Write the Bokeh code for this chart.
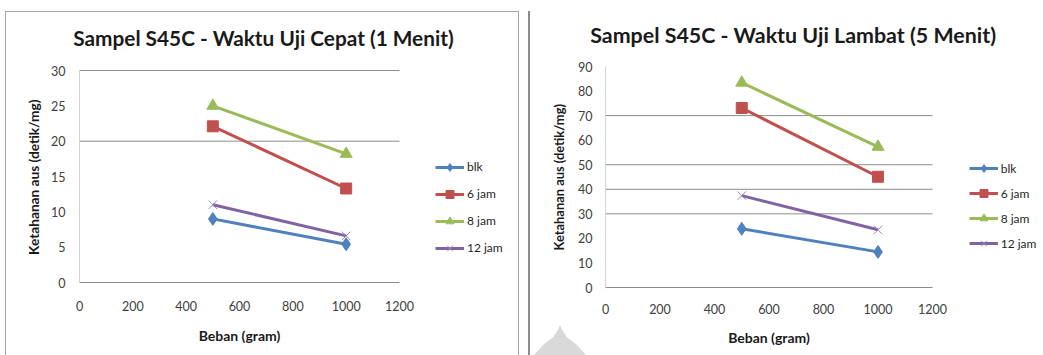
import math

from bokeh.plotting import figure
from bokeh.layouts import row
from bokeh.models import (Range1d, FixedTicker, Legend, LegendItem, Label,
                          InlineStyleSheet)
from bokeh.embed import file_html
from bokeh.resources import INLINE

# Load (gram) on the x axis
beban = [500, 1000]
series_names = ["blk", "6 jam", "8 jam", "12 jam"]

# Wear resistance (detik/mg), fast test (1 minute)
cepat_blk = [9.0, 5.4]
cepat_6jam = [22.1, 13.3]
cepat_8jam = [25.0, 18.2]
cepat_12jam = [11.0, 6.6]

# Wear resistance (detik/mg), slow test (5 minutes)
lambat_blk = [23.9, 14.5]
lambat_6jam = [73.1, 45.1]
lambat_8jam = [83.4, 57.3]
lambat_12jam = [37.4, 23.5]

x_ticks = [0, 200, 400, 600, 800, 1000, 1200]
cepat_ticks = [0, 5, 10, 15, 20, 25, 30]
lambat_ticks = [0, 10, 20, 30, 40, 50, 60, 70, 80, 90]
cepat_grid = [20, 30]
lambat_grid = [30, 40, 50, 70]

title_cepat = "Sampel S45C - Waktu Uji Cepat (1 Menit)"
title_lambat = "Sampel S45C - Waktu Uji Lambat (5 Menit)"
y_label = "Ketahanan aus (detik/mg)"
x_label = "Beban (gram)"

COLORS = ["#4F81BD", "#C0504D", "#9BBB59", "#8064A2"]
MARKERS = ["diamond", "square", "triangle", "x"]
MSIZE = [13, 11, 12, 12]
FONT = "Lato"
H = 355


def make_chart(width, axes_box, title, title_size, title_pos, ys, y_ticks, grid_ticks,
               legend_xy, legend_spacing, ylab_size, ylab_pos, ytick_standoff,
               xtick_standoff, xlab_pos, css):
    # The frame fills the whole canvas; axes_box gives the pixel edges
    # (left, top, right, bottom) of the 0..max data area, and both axes are
    # pinned at data zero and bounded to that area.
    al, at, ar, ab = axes_box
    x_max, y_max = x_ticks[-1], y_ticks[-1]
    kx = x_max / (ar - al)
    ky = y_max / (ab - at)
    p = figure(width=width, height=H, output_backend="svg", toolbar_location=None,
               x_range=Range1d(-al * kx, (width - al) * kx),
               y_range=Range1d(-(H - ab) * ky, ab * ky),
               min_border_left=0, min_border_right=0,
               min_border_top=0, min_border_bottom=0,
               stylesheets=[InlineStyleSheet(css=css)])
    p.outline_line_color = None
    p.background_fill_color = None
    p.border_fill_color = None
    p.grid.visible = False

    # horizontal gridlines across the data area only
    p.segment(x0=[0] * len(grid_ticks), x1=[x_max] * len(grid_ticks),
              y0=grid_ticks, y1=grid_ticks, line_color="#8c8c8c", line_width=1)

    p.xaxis.ticker = FixedTicker(ticks=x_ticks)
    p.yaxis.ticker = FixedTicker(ticks=y_ticks)
    p.xaxis.bounds = (0, x_max)
    p.yaxis.bounds = (0, y_max)
    p.xaxis.fixed_location = 0
    p.yaxis.fixed_location = 0
    for ax in (p.xaxis[0], p.yaxis[0]):
        ax.major_tick_line_color = None
        ax.minor_tick_line_color = None
        ax.major_label_text_font = FONT
        ax.major_label_text_font_size = "12.5px"
        ax.major_label_text_color = "#404040"
    p.xaxis.axis_line_color = "#8c8c8c"
    p.yaxis.axis_line_color = "#d4d4d4"
    p.xaxis.major_label_standoff = xtick_standoff
    p.yaxis.major_label_standoff = ytick_standoff

    items = []
    for name, vals, color, marker, ms in zip(series_names, ys, COLORS, MARKERS, MSIZE):
        ln = p.line(beban, vals, line_color=color, line_width=3)
        if marker == "x":
            sc = p.scatter(beban, vals, marker=marker, size=ms, line_color="#9C88C0",
                           line_width=1)
        else:
            sc = p.scatter(beban, vals, marker=marker, size=ms, fill_color=color,
                           line_color=color)
        items.append(LegendItem(label=name, renderers=[ln, sc]))

    legend = Legend(items=items, location=(legend_xy[0], H - legend_xy[1]),
                    glyph_width=29, glyph_height=20, label_height=20,
                    spacing=legend_spacing, padding=0, margin=0, label_standoff=3,
                    border_line_color=None, background_fill_alpha=0,
                    label_text_font=FONT, label_text_font_size="12px",
                    label_text_color="#262626")
    p.add_layout(legend)

    def label(text, pos, size, angle=0.0):
        p.add_layout(Label(x=pos[0], y=H - pos[1], x_units="screen", y_units="screen",
                           text=text, angle=angle, text_align="center",
                           text_baseline="middle", text_font=FONT,
                           text_font_style="bold", text_font_size=size,
                           text_color="#1a1a1a"))

    label(title, title_pos, title_size)
    label(y_label, ylab_pos, ylab_size, angle=math.pi / 2)
    label(x_label, xlab_pos, "14px")
    return p


# outer border of the first chart
left_css = """
:host { position: relative; }
:host::after { content: ""; position: absolute; left: 5px; top: 11px; width: 514px;
  height: 360px; border: 1px solid #a6a6a6; pointer-events: none; }
"""
# separator line and faint logo watermark of the second chart
right_css = """
:host { position: relative; }
:host::after { content: ""; position: absolute; left: 7px; top: 11px; width: 2px;
  height: 350px; background: #8c8c8c; pointer-events: none; }
:host::before { content: ""; position: absolute; left: 12px; top: 325px; width: 54px;
  height: 31px; background: #d9d9d9; pointer-events: none; z-index: 1;
  clip-path: polygon(0% 100%, 20% 62%, 38% 38%, 46% 16%, 50% 0%, 54% 16%, 62% 38%, 80% 62%, 100% 100%); }
"""

left = make_chart(521, (79, 70, 399, 282), title_cepat, "20.8px", (263, 36.5),
                  [cepat_blk, cepat_6jam, cepat_8jam, cepat_12jam], cepat_ticks,
                  cepat_grid, (435, 257.7), 7,
                  "13.7px", (33, 176.7), 8, 12, (239, 335), left_css)

right = make_chart(522, (84, 66, 411, 287), title_lambat, "21.4px", (271.7, 34.5),
                   [lambat_blk, lambat_6jam, lambat_8jam, lambat_12jam], lambat_ticks,
                   lambat_grid, (447.7, 253), 5,
                   "12.9px", (37, 176.7), 7, 10, (247.5, 336.7), right_css)

layout = row(left, right)
open("out.html", "w").write(file_html(layout, INLINE))
